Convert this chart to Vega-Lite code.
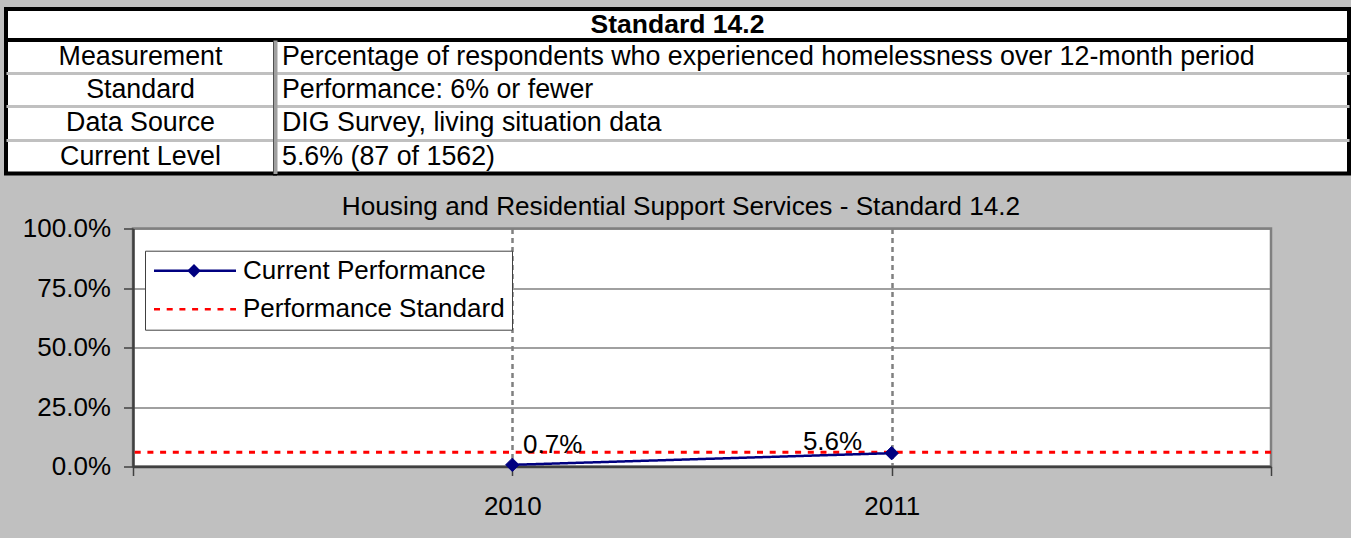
{
  "$schema": "https://vega.github.io/schema/vega-lite/v6.json",
  "background": "#c0c0c0",
  "padding": {"left": 4, "top": 7, "right": 0, "bottom": 40},
  "config": {"font": "Liberation Sans"},
  "datasets": {
    "header": [{"title": "Standard 14.2"}],
    "rows": [
      {"label": "Measurement", "value": "Percentage of respondents who experienced homelessness over 12-month period"},
      {"label": "Standard", "value": "Performance: 6% or fewer"},
      {"label": "Data Source", "value": "DIG Survey, living situation data"},
      {"label": "Current Level", "value": "5.6% (87 of 1562)"}
    ],
    "perf": [
      {"year": 2010, "pct": 0.007, "series": "Current Performance"},
      {"year": 2011, "pct": 0.056, "series": "Current Performance"}
    ],
    "standard": [{"series": "Performance Standard", "pct": 0.06}],
    "blank": [{"note": ""}]
  },
  "vconcat": [
    {
      "vconcat": [
        {
          "width": 1343,
          "height": 31,
          "data": {"name": "header"},
          "view": {"fill": "white", "stroke": "black", "strokeWidth": 4},
          "mark": {"type": "text", "fontSize": 26.5, "fontWeight": "bold", "baseline": "middle", "color": "black"},
          "encoding": {"text": {"field": "title", "type": "nominal"}}
        },
        {
          "hconcat": [
            {
              "width": 269,
              "height": 133.5,
              "data": {"name": "rows"},
              "view": {"fill": "white", "stroke": "black", "strokeWidth": 4},
              "mark": {"type": "text", "fontSize": 26.8, "baseline": "middle", "color": "black"},
              "encoding": {
                "y": {
                  "field": "label", "type": "nominal", "sort": null,
                  "scale": {"type": "band", "paddingInner": 0, "paddingOuter": 0},
                  "axis": {"title": null, "labels": false, "ticks": false, "domain": false, "grid": true, "gridColor": "#c0c0c0", "gridWidth": 3, "bandPosition": 0, "values": ["Standard", "Data Source", "Current Level"], "minExtent": 0, "maxExtent": 0}
                },
                "text": {"field": "label", "type": "nominal"}
              }
            },
            {
              "width": 1074,
              "height": 133.5,
              "data": {"name": "rows"},
              "view": {"fill": "white", "stroke": "black", "strokeWidth": 4},
              "mark": {"type": "text"},
              "encoding": {
                "y": {
                  "field": "value", "type": "nominal", "sort": null,
                  "scale": {"type": "band", "paddingInner": 0, "paddingOuter": 0},
                  "axis": {
                    "title": null, "orient": "left", "ticks": false,
                    "domain": true, "domainColor": "#a0a0a0", "domainWidth": 4,
                    "labelAlign": "left", "labelBaseline": "middle", "labelPadding": -6.5, "labelOffset": 0,
                    "labelFontSize": 26.8, "labelColor": "black", "labelLimit": 1100, "labelOverlap": false, "labelFlush": false,
                    "bandPosition": 0, "grid": true, "gridColor": "#c0c0c0", "gridWidth": 3,
                    "gridOpacity": {"condition": {"test": "datum.value === 'Percentage of respondents who experienced homelessness over 12-month period'", "value": 0}, "value": 1},
                    "minExtent": 0, "maxExtent": 0
                  }
                },
                "text": {"value": ""}
              }
            }
          ],
          "spacing": 0,
          "bounds": "flush"
        }
      ],
      "spacing": 0,
      "bounds": "flush"
    },
    {
      "hconcat": [
        {
          "width": 1,
          "height": 1,
          "data": {"name": "blank"},
          "view": {"stroke": "transparent", "fill": "transparent"},
          "mark": {"type": "text"},
          "encoding": {"text": {"field": "note", "type": "nominal"}}
        },
        {
          "width": 1138,
          "height": 238,
          "view": {"fill": "white", "stroke": "#808080", "strokeWidth": 2.5},
          "title": {"text": "Housing and Residential Support Services - Standard 14.2", "fontSize": 26.2, "fontWeight": "normal", "color": "black", "anchor": "middle", "frame": "group", "dx": -21, "offset": -4.2},
          "layer": [
            {
              "data": {"name": "standard"},
              "mark": {"type": "rule", "strokeWidth": 3},
              "encoding": {
                "y": {
                  "field": "pct", "type": "quantitative",
                  "scale": {"domain": [0, 1], "nice": false},
                  "axis": {
                    "title": null, "values": [0, 0.25, 0.5, 0.75, 1], "format": ".1%",
                    "labelFontSize": 26, "labelColor": "black", "labelPadding": 13,
                    "tickSize": 9.5, "tickColor": "#404040", "tickWidth": 1.5,
                    "domainColor": "#404040", "domainWidth": 2.5,
                    "grid": true, "gridColor": "#808080", "gridWidth": 1.5,
                    "minExtent": 123.5, "maxExtent": 123.5, "labelFlush": false, "labelOverlap": false
                  }
                },
                "color": {"field": "series", "type": "nominal", "scale": {"domain": ["Current Performance", "Performance Standard"], "range": ["#000080", "#ff0000"]}},
                "strokeDash": {"field": "series", "type": "nominal", "scale": {"domain": ["Current Performance", "Performance Standard"], "range": [[1, 0], [6, 6.7]]}}
              }
            },
            {
              "data": {"name": "perf"},
              "mark": {"type": "line", "strokeWidth": 2.5},
              "encoding": {
                "x": {
                  "field": "year", "type": "quantitative",
                  "scale": {"domain": [2009, 2012], "nice": false, "zero": false},
                  "axis": {
                    "title": null, "values": [2009, 2010, 2011, 2012], "format": "d",
                    "labelExpr": "datum.value == 2010 || datum.value == 2011 ? datum.label : ''",
                    "labelFontSize": 26, "labelColor": "black", "labelPadding": 17.5,
                    "tickSize": 9, "tickColor": "#404040", "tickWidth": 1.5,
                    "domainColor": "#404040", "domainWidth": 2.5,
                    "grid": true, "gridColor": "#808080", "gridWidth": 2.5, "gridDash": [5, 4],
                    "gridOpacity": {"condition": {"test": "datum.value == 2010 || datum.value == 2011", "value": 1}, "value": 0},
                    "labelFlush": false, "labelOverlap": false
                  }
                },
                "y": {"field": "pct", "type": "quantitative"},
                "color": {
                  "field": "series", "type": "nominal",
                  "legend": {
                    "title": null, "orient": "none", "legendX": 139, "legendY": 241.7, "direction": "vertical",
                    "labelFontSize": 26, "labelColor": "black", "labelLimit": 500, "labelOffset": 65,
                    "symbolType": "M-1.1,0L7.1,0", "symbolSize": 400, "symbolStrokeWidth": 2.5, "rowPadding": 12.5, "padding": 7,
                    "fillColor": "white", "strokeColor": "#404040"
                  }
                },
                "strokeDash": {
                  "field": "series", "type": "nominal",
                  "legend": {
                    "title": null, "orient": "none", "legendX": 139, "legendY": 241.7, "direction": "vertical",
                    "labelFontSize": 26, "labelColor": "black", "labelLimit": 500, "labelOffset": 65,
                    "symbolType": "M-1.1,0L7.1,0", "symbolSize": 400, "symbolStrokeWidth": 2.5, "rowPadding": 12.5, "padding": 7,
                    "fillColor": "white", "strokeColor": "#404040"
                  }
                }
              }
            },
            {
              "data": {"name": "perf"},
              "mark": {"type": "point", "filled": true, "size": 180, "color": "#000080", "stroke": "#000080", "strokeWidth": 1, "opacity": 1},
              "encoding": {
                "x": {"field": "year", "type": "quantitative"},
                "y": {"field": "pct", "type": "quantitative"},
                "shape": {
                  "field": "series", "type": "nominal",
                  "scale": {"domain": ["Current Performance"], "range": ["diamond"]},
                  "legend": {
                    "title": null, "orient": "none", "legendX": 139, "legendY": 241.7, "direction": "vertical",
                    "labelFontSize": 26, "labelOpacity": 0, "labelOffset": 360, "rowPadding": 12.5, "padding": 7,
                    "symbolSize": 180, "symbolOffset": 29, "symbolStrokeWidth": 1,
                    "symbolFillColor": "#000080", "symbolStrokeColor": "#000080", "symbolOpacity": 1, "zindex": 2
                  }
                }
              }
            },
            {
              "data": {"name": "perf"},
              "transform": [{"filter": "datum.year == 2010"}],
              "mark": {"type": "text", "align": "left", "baseline": "middle", "dx": 10.7, "dy": -20.3, "fontSize": 26, "color": "black"},
              "encoding": {
                "x": {"field": "year", "type": "quantitative"},
                "y": {"field": "pct", "type": "quantitative"},
                "text": {"field": "pct", "type": "quantitative", "format": ".1%"}
              }
            },
            {
              "data": {"name": "perf"},
              "transform": [{"filter": "datum.year == 2011"}],
              "mark": {"type": "text", "align": "right", "baseline": "middle", "dx": -29.5, "dy": -11, "fontSize": 26, "color": "black"},
              "encoding": {
                "x": {"field": "year", "type": "quantitative"},
                "y": {"field": "pct", "type": "quantitative"},
                "text": {"field": "pct", "type": "quantitative", "format": ".1%"}
              }
            }
          ]
        }
      ],
      "spacing": 0
    }
  ],
  "spacing": 15.5
}
